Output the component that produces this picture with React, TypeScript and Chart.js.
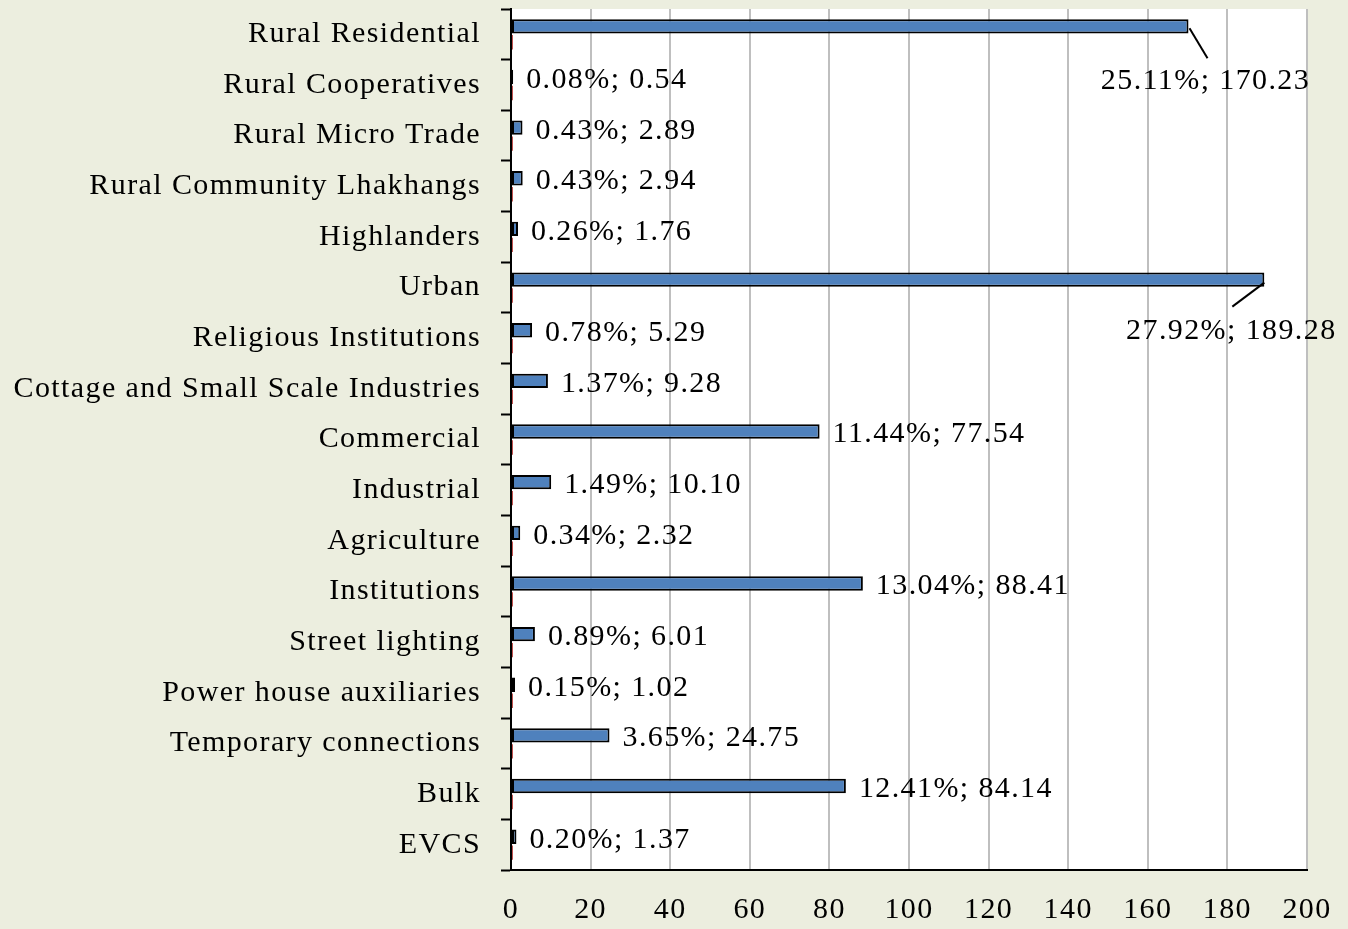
import React, { useEffect, useRef } from "react";
import { Chart, registerables } from "chart.js";

Chart.register(...registerables);

const categories = [
  "Rural Residential",
  "Rural Cooperatives",
  "Rural Micro Trade",
  "Rural Community Lhakhangs",
  "Highlanders",
  "Urban",
  "Religious Institutions",
  "Cottage and Small Scale Industries",
  "Commercial",
  "Industrial",
  "Agriculture",
  "Institutions",
  "Street lighting",
  "Power house auxiliaries",
  "Temporary connections",
  "Bulk",
  "EVCS",
];

const values = [170.23, 0.54, 2.89, 2.94, 1.76, 189.28, 5.29, 9.28, 77.54, 10.1, 2.32, 88.41, 6.01, 1.02, 24.75, 84.14, 1.37];
const valueLabels = ["170.23", "0.54", "2.89", "2.94", "1.76", "189.28", "5.29", "9.28", "77.54", "10.10", "2.32", "88.41", "6.01", "1.02", "24.75", "84.14", "1.37"];
const percents = ["25.11%", "0.08%", "0.43%", "0.43%", "0.26%", "27.92%", "0.78%", "1.37%", "11.44%", "1.49%", "0.34%", "13.04%", "0.89%", "0.15%", "3.65%", "12.41%", "0.20%"];
const secondary = [0.5, 0.5, 0.5, 0.5, 0.5, 0.5, 0.5, 0.5, 0.5, 0.5, 0.5, 0.5, 0.5, 0.5, 0.5, 0.5, 0.5];
const xTicks = [0, 20, 40, 60, 80, 100, 120, 140, 160, 180, 200];

const FONT = "'Liberation Serif', serif";

const bgPlugin = {
  id: "bgPlugin",
  beforeDraw(chart: any) {
    const { ctx, chartArea } = chart;
    ctx.letterSpacing = "1.4px";
    ctx.save();
    ctx.fillStyle = "#ECEEDF";
    ctx.fillRect(0, 0, chart.width, chart.height);
    ctx.fillStyle = "#FFFFFF";
    ctx.fillRect(chartArea.left, chartArea.top, chartArea.right - chartArea.left, chartArea.bottom - chartArea.top);
    ctx.restore();
  },
};

const labelPlugin = {
  id: "labelPlugin",
  afterDatasetsDraw(chart: any) {
    const { ctx } = chart;
    const meta = chart.getDatasetMeta(0);
    ctx.save();
    ctx.letterSpacing = "1.4px";
    ctx.font = "30px " + FONT;
    ctx.fillStyle = "#000";
    ctx.strokeStyle = "#000";
    ctx.lineWidth = 2;
    meta.data.forEach((bar: any, i: number) => {
      const text = percents[i] + "; " + valueLabels[i];
      if (i === 0) {
        ctx.beginPath();
        ctx.moveTo(bar.x + 1, bar.y + 2);
        ctx.lineTo(bar.x + 19, bar.y + 32);
        ctx.stroke();
        ctx.textAlign = "center";
        ctx.textBaseline = "middle";
        ctx.fillText(text, bar.x + 17, bar.y + 55);
      } else if (i === 5) {
        ctx.beginPath();
        ctx.moveTo(bar.x, bar.y + 3);
        ctx.lineTo(bar.x - 32, bar.y + 27);
        ctx.stroke();
        ctx.textAlign = "center";
        ctx.textBaseline = "middle";
        ctx.fillText(text, bar.x - 33, bar.y + 52);
      } else {
        ctx.textAlign = "left";
        ctx.textBaseline = "middle";
        ctx.fillText(text, bar.x + 13, bar.y + 3);
      }
    });
    ctx.restore();
  },
};

export default function App() {
  const ref = useRef<HTMLCanvasElement>(null);
  useEffect(() => {
    if (!ref.current) return;
    const chart = new Chart(ref.current, {
      type: "bar",
      data: {
        labels: categories,
        datasets: [
          {
            data: values,
            backgroundColor: "#4F81BD",
            borderColor: "#000000",
            borderWidth: 2,
            borderSkipped: false,
            categoryPercentage: 0.63,
            barPercentage: 0.9,
          },
          {
            data: secondary,
            backgroundColor: "#C0504D",
            borderWidth: 0,
            categoryPercentage: 0.63,
            barPercentage: 0.9,
          },
        ],
      },
      options: {
        indexAxis: "y",
        animation: false,
        responsive: false,
        maintainAspectRatio: false,
        layout: { padding: { top: 9, right: 41, left: 0, bottom: 0 } },
        plugins: { legend: { display: false }, tooltip: { enabled: false } },
        scales: {
          x: {
            min: 0,
            max: 200,
            afterBuildTicks(scale: any) {
              scale.ticks = xTicks.map((v) => ({ value: v }));
            },
            afterFit(scale: any) {
              scale.height = 59;
              scale.paddingLeft = 0;
              scale.paddingRight = 0;
            },
            grid: { color: "#BFBFBF", lineWidth: 2, drawTicks: false },
            border: { display: true, color: "#000000", width: 2 },
            ticks: { font: { family: FONT, size: 30 }, color: "#000", padding: 22, maxRotation: 0 },
          },
          y: {
            afterFit(scale: any) {
              scale.width = 511;
              scale.paddingTop = 0;
              scale.paddingBottom = 0;
            },
            grid: { drawOnChartArea: false, drawTicks: true, tickLength: 10, tickColor: "#000", tickWidth: 2, offset: true },
            border: { display: true, color: "#000000", width: 2 },
            ticks: { font: { family: FONT, size: 30 }, color: "#000", padding: 20, autoSkip: false },
          },
        },
      },
      plugins: [bgPlugin, labelPlugin],
    });
    return () => chart.destroy();
  }, []);
  return (
    <div style={{ position: "absolute", left: 0, top: 0, width: 1348, height: 929 }}>
      <canvas ref={ref} width={1348} height={929} style={{ display: "block" }} />
    </div>
  );
}
